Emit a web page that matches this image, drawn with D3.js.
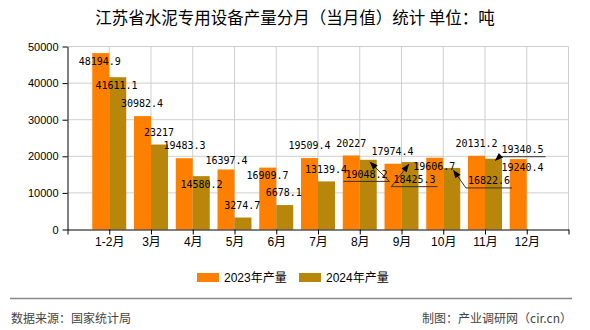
<!DOCTYPE html>
<html><head><meta charset="utf-8">
<script src="https://cdn.jsdelivr.net/npm/d3@7"></script>
<style>body{margin:0;background:#fff} svg{display:block}</style>
</head><body><svg id="c" width="590" height="330"></svg>
<script>
const categories = ["1-2月","3月","4月","5月","6月","7月","8月","9月","10月","11月","12月"];
const values2023 = [48194.9,30982.4,19483.3,16397.4,16909.7,19509.4,20227,17974.4,19606.7,20131.2,19240.4];
const values2024 = [41611.1,23217,14580.2,3274.7,6678.1,13139.4,19048.2,18425.3,16822.6,19340.5,null];
const seriesNames = ["2023年产量","2024年产量"];
const yTicks = [0,10000,20000,30000,40000,50000];
const title = "江苏省水泥专用设备产量分月（当月值）统计 单位：吨";
const sourceText = "数据来源：国家统计局";
const creditText = "制图：产业调研网（cir.cn）";

// label layout (px offsets from each bar's top centre), as placed in the original
const labelDx2023 = [-1,-0.5,0.25,0.5,-0.25,0,0,-0.5,-0.5,0,4.25];
const labelDy2023 = [8.6,-13,-13,-9,8,-12.7,-12,-12,8.4,-12,8];
const labelDx2024 = [-1.25,-0.5,0.25,-0.8,-1,-0.5,-1.75,4.5,37.25,29];
const labelDy2024 = [8.4,-12.4,8,-12,-12.5,-12,14.6,17.6,13,-9];
// leader line elbow side (null = no leader)
const leader2024 = [null,null,null,null,null,null,"right","left","left","left"];

const colors = ["#FF8000","#B8860B"];
const svg = d3.select("#c");

const x = d3.scaleLinear().domain([0,12]).range([67.5,568.5]);
const y = d3.scaleLinear().domain([0,50000]).range([229.5,46.5]);
const band = x(1)-x(0);
const barW = band*0.407;

// grid
const g = svg.append("g");
g.selectAll(".hg").data(yTicks.filter(d=>d>0)).join("line")
  .attr("x1",x(0)).attr("x2",x(12)).attr("y1",d=>y(d)).attr("y2",d=>y(d))
  .attr("stroke","#cfcfcf").attr("stroke-width",1);
g.selectAll(".vg").data(d3.range(1,13)).join("line")
  .attr("x1",d=>x(d)).attr("x2",d=>x(d)).attr("y1",y(50000)).attr("y2",y(0))
  .attr("stroke","#cfcfcf").attr("stroke-width",1);

// bars
const series = [values2023, values2024];
series.forEach((vals,s)=>{
  svg.append("g").selectAll("rect").data(vals.map((v,i)=>({v,i})).filter(d=>d.v!=null)).join("rect")
    .attr("x",d=> s===0 ? x(d.i+1)-barW : x(d.i+1))
    .attr("width",barW)
    .attr("y",d=>y(d.v))
    .attr("height",d=>y(0)-y(d.v))
    .attr("fill",colors[s]);
});

// axes
const yAxis = d3.axisLeft(y).tickValues(yTicks).tickSize(5).tickSizeOuter(0).tickPadding(4).tickFormat(d3.format("d"));
const ya = svg.append("g").attr("transform","translate("+x(0)+",0)").call(yAxis);
ya.selectAll("text").attr("font-family","'Liberation Sans',Arial,sans-serif").attr("font-size","11px").attr("fill","#000");
ya.selectAll("line,path").attr("stroke","#000");

const xAxis = d3.axisBottom(x).tickValues(d3.range(0,13)).tickSize(5).tickSizeOuter(0).tickPadding(3)
  .tickFormat(i=> categories[i-1] || "");
const xa = svg.append("g").attr("transform","translate(0,"+y(0)+")").call(xAxis);
xa.selectAll("text").attr("font-family","'Liberation Sans','Noto Sans CJK SC',sans-serif").attr("font-size","12px").attr("fill","#000");
xa.selectAll("line,path").attr("stroke","#000");

// value labels
const labFont = "'DejaVu Sans Mono','Liberation Mono',monospace";
function addLabels(vals, s, dxs, dys, leaders){
  vals.forEach((v,i)=>{
    if(v==null) return;
    const bx = s===0 ? x(i+1)-barW/2 : x(i+1)+barW/2;
    const by = y(v);
    const cx = bx + dxs[i], cy = by + dys[i];
    const t = svg.append("text").attr("x",cx).attr("y",cy).attr("text-anchor","middle")
      .attr("dominant-baseline","central").attr("font-family",labFont).attr("font-size","10px")
      .attr("fill","#000").text(String(v));
    const side = leaders && leaders[i];
    if(side){
      const w = t.node().getComputedTextLength();
      const uy = cy + 7;
      const left = cx - w/2 - 2, right = cx + w/2 + 2;
      const ex = side==="right" ? right : left;
      const ox = side==="right" ? left : right;
      const tx = bx + (ex>bx?1.5:-1), ty = by + 2;
      svg.append("polyline").attr("points",[[tx,ty],[ex,uy],[ox,uy]].map(p=>p.join(",")).join(" "))
        .attr("fill","none").attr("stroke","#333").attr("stroke-width",1);
      const ang = Math.atan2(ty-uy, tx-ex);
      const L=8, H=3.2;
      const bxp = tx - L*Math.cos(ang), byp = ty - L*Math.sin(ang);
      const nx = -Math.sin(ang), ny = Math.cos(ang);
      svg.append("path").attr("d","M"+tx+","+ty+"L"+(bxp+nx*H)+","+(byp+ny*H)+"L"+(bxp-nx*H)+","+(byp-ny*H)+"Z")
        .attr("fill","#000");
    }
  });
}
addLabels(values2023,0,labelDx2023,labelDy2023,null);
addLabels(values2024,1,labelDx2024,labelDy2024,leader2024);

// title
svg.append("text").attr("x",295).attr("y",17).attr("text-anchor","middle").attr("dominant-baseline","central")
  .attr("font-family","'Noto Sans CJK SC',sans-serif").attr("font-size","16.5px").attr("font-weight","400").attr("fill","#000").text(title);

// legend
const legX = [197,299];
seriesNames.forEach((n,s)=>{
  svg.append("rect").attr("x",legX[s]).attr("y",273).attr("width",22).attr("height",9).attr("fill",colors[s]);
  svg.append("text").attr("x",legX[s]+27).attr("y",277.5).attr("dominant-baseline","central")
    .attr("font-family","'Liberation Sans','Noto Sans CJK SC',sans-serif").attr("font-size","12px").attr("fill","#000").text(n);
});

// footer
svg.append("line").attr("x1",10).attr("x2",572).attr("y1",298.5).attr("y2",298.5).attr("stroke","#888").attr("stroke-width",1.5);
svg.append("text").attr("x",11).attr("y",317).attr("dominant-baseline","central")
  .attr("font-family","'Noto Sans CJK SC',sans-serif").attr("font-size","12px").attr("fill","#444").text(sourceText);
svg.append("text").attr("x",572).attr("y",317).attr("text-anchor","end").attr("dominant-baseline","central")
  .attr("font-family","'Noto Sans CJK SC',sans-serif").attr("font-size","12px").attr("fill","#444").text(creditText);
</script></body></html>
